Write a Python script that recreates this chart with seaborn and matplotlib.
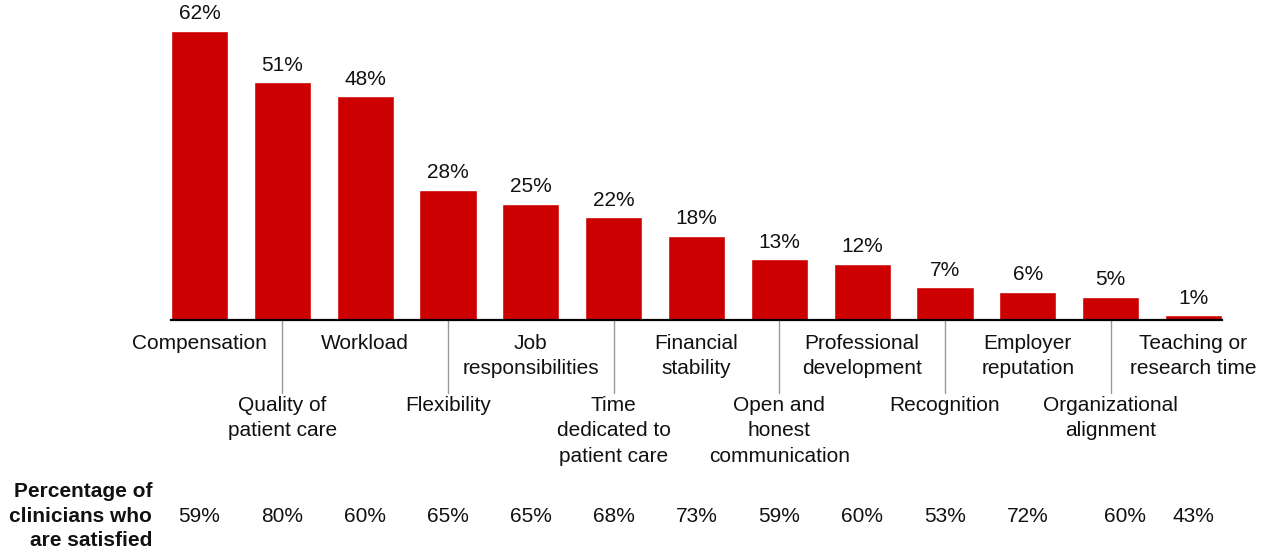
import matplotlib
matplotlib.use("Agg")
import matplotlib.pyplot as plt
import seaborn as sns
import pandas as pd

categories = ["Compensation", "Quality of\npatient care", "Workload", "Flexibility",
              "Job\nresponsibilities", "Time\ndedicated to\npatient care", "Financial\nstability",
              "Open and\nhonest\ncommunication", "Professional\ndevelopment", "Recognition",
              "Employer\nreputation", "Organizational\nalignment", "Teaching or\nresearch time"]
importance = [62, 51, 48, 28, 25, 22, 18, 13, 12, 7, 6, 5, 1]
satisfied = [59, 80, 60, 65, 65, 68, 73, 59, 60, 53, 72, 60, 43]
row_title = "Percentage of\nclinicians who\nare satisfied"

sns.set_theme(style="white")
plt.rcParams['font.family'] = ['Liberation Sans', 'DejaVu Sans']

W, H = 1268, 554
fig = plt.figure(figsize=(W / 100, H / 100), dpi=100)
base_px, top_px, left_px, right_px = 320, 2, 171, 1222
ax = fig.add_axes([left_px / W, (H - base_px) / H, (right_px - left_px) / W, (base_px - top_px) / H])

scale = 4.66  # px per unit
step_px = (right_px - left_px) / (len(categories) - 1 + 0.69)


def py(p):
    return (base_px - p) / scale


df = pd.DataFrame({"cat": categories, "val": importance})
sns.barplot(data=df, x="cat", y="val", color="#CC0000", saturation=1, width=0.69, ax=ax)
ax.set_xlim(-0.345, len(categories) - 1 + 0.345)
ax.set_ylim(0, py(top_px))
ax.bar_label(ax.containers[0], labels=[f"{v}%" for v in importance], padding=5.5,
             fontsize=15, color="#111111")

for s in ["top", "left", "right"]:
    ax.spines[s].set_visible(False)
ax.spines["bottom"].set_color("black")
ax.spines["bottom"].set_linewidth(1.6)
ax.set_xticks([])
ax.set_yticks([])
ax.set_xlabel("")
ax.set_ylabel("")

fs = 15
ls = 1.42
shift_px = {11: 14}
for i, lab in enumerate(categories):
    if i % 2 == 0:
        ax.text(i, py(334), lab, ha="center", va="top", fontsize=fs, linespacing=ls,
                color="#111111", clip_on=False)
    else:
        ax.plot([i, i], [0, py(393)], color="#999999", lw=1, clip_on=False)
        ax.text(i, py(396), lab, ha="center", va="top", fontsize=fs, linespacing=ls,
                color="#111111", clip_on=False)
    ax.text(i + shift_px.get(i, 0) / step_px, py(517), f"{satisfied[i]}%", ha="center",
            va="center", fontsize=fs, color="#111111", clip_on=False)

fig.text(152 / W, 1 - 516 / H, row_title, ha="right", va="center", fontsize=fs,
         fontweight="bold", linespacing=1.38, color="#111111")

fig.savefig("out.png", dpi=100)
